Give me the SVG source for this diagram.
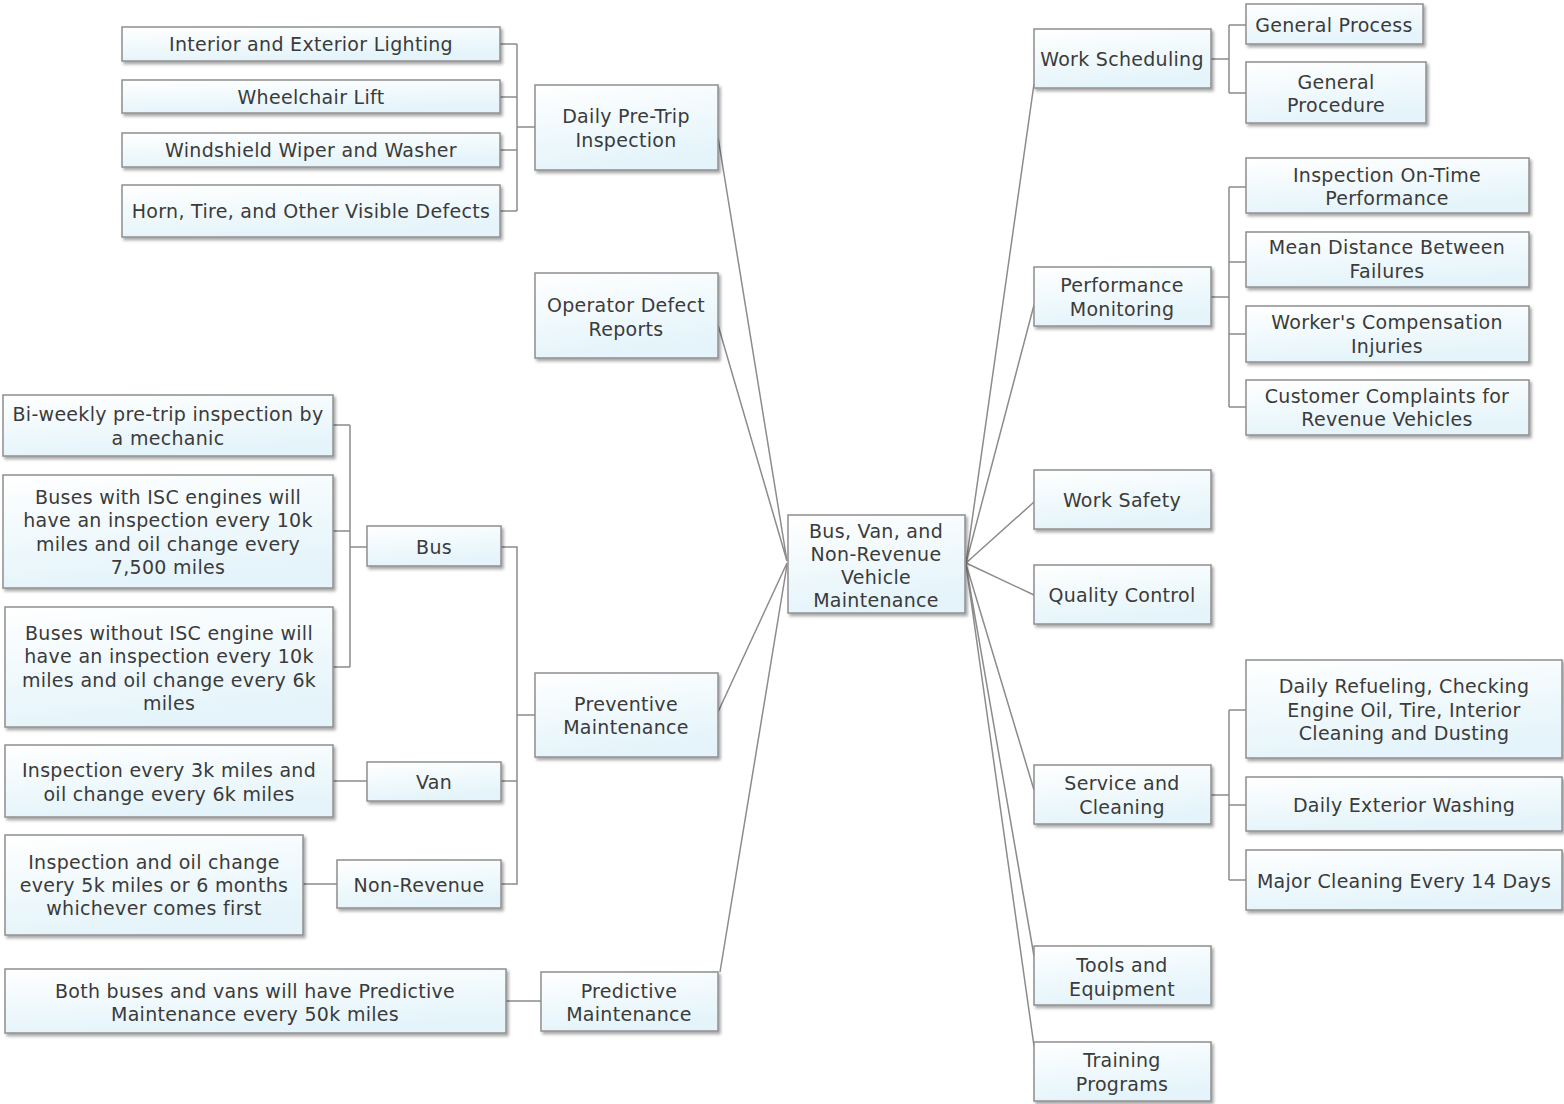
<svg xmlns="http://www.w3.org/2000/svg" width="1564" height="1104" viewBox="0 0 1564 1104">
<defs>
<linearGradient id="g" x1="0" y1="0" x2="0.3" y2="1">
<stop offset="0" stop-color="#ffffff"/>
<stop offset="1" stop-color="#e4f4fa"/>
</linearGradient>
<filter id="sh" x="-10%" y="-20%" width="130%" height="150%">
<feDropShadow dx="2" dy="2.5" stdDeviation="1.6" flood-color="#000" flood-opacity="0.35"/>
</filter>
<style>
.b{fill:url(#g);stroke:#8f8f8f;stroke-width:1.5;filter:url(#sh)}
.t{font-family:"DejaVu Sans",Verdana,sans-serif;font-size:19px;fill:#3b3b3b;text-anchor:middle;letter-spacing:0.3px}
.c{fill:none;stroke:#8c8c8c;stroke-width:1.5}
</style>
</defs>
<rect width="1564" height="1104" fill="#ffffff"/>
<g id="connectors" class="c">
<path d="M718,137 L787,561 M718,325 L787,561 M718,712 L787,563 M720,972 L787,565"/>
<path d="M966,563 L1034,84 M966,563 L1034,305 M966,563 L1034,502 M966,563 L1034,595 M966,564 L1034,790 M966,565 L1034,956 M966,565 L1034,1046"/>
<path d="M535,127 H517 M517,44 V211 M500,44 H517 M500,97 H517 M500,150 H517 M500,211 H517"/>
<path d="M333,425 H350 M333,531 H350 M333,667 H350 M350,425 V667 M350,547 H367"/>
<path d="M501,547 H517 V884 H501 M501,781 H517 M517,715 H535"/>
<path d="M333,781 H367 M303,884 H337 M506,1001 H541"/>
<path d="M1211,59 H1229 M1229,25 V93 M1229,25 H1246 M1229,93 H1246"/>
<path d="M1211,297 H1229 M1229,187 V407 M1229,187 H1246 M1229,262 H1246 M1229,334 H1246 M1229,407 H1246"/>
<path d="M1211,795 H1229 M1229,710 V880 M1229,710 H1246 M1229,805 H1246 M1229,880 H1246"/>
</g>
<g id="n-center"><rect class="b" x="788" y="515" width="177" height="98"/><text class="t" x="876" y="538">Bus, Van, and</text><text class="t" x="876" y="561">Non-Revenue</text><text class="t" x="876" y="584">Vehicle</text><text class="t" x="876" y="607">Maintenance</text></g>
<g id="n-daily"><rect class="b" x="535" y="85" width="183" height="85"/><text class="t" x="626" y="123">Daily Pre-Trip</text><text class="t" x="626" y="147">Inspection</text></g>
<g id="n-operator"><rect class="b" x="535" y="273" width="183" height="85"/><text class="t" x="626" y="312">Operator Defect</text><text class="t" x="626" y="336">Reports</text></g>
<g id="n-preventive"><rect class="b" x="535" y="673" width="183" height="84"/><text class="t" x="626" y="711">Preventive</text><text class="t" x="626" y="734">Maintenance</text></g>
<g id="n-predictive"><rect class="b" x="541" y="972" width="177" height="59"/><text class="t" x="629" y="998">Predictive</text><text class="t" x="629" y="1021">Maintenance</text></g>
<g id="n-lighting"><rect class="b" x="122" y="27" width="378" height="34"/><text class="t" x="311" y="51">Interior and Exterior Lighting</text></g>
<g id="n-wheelchair"><rect class="b" x="122" y="80" width="378" height="33"/><text class="t" x="311" y="104">Wheelchair Lift</text></g>
<g id="n-windshield"><rect class="b" x="122" y="133" width="378" height="34"/><text class="t" x="311" y="157">Windshield Wiper and Washer</text></g>
<g id="n-horn"><rect class="b" x="122" y="185" width="378" height="52"/><text class="t" x="311" y="218">Horn, Tire, and Other Visible Defects</text></g>
<g id="n-biweekly"><rect class="b" x="3" y="395" width="330" height="61"/><text class="t" x="168" y="421">Bi-weekly pre-trip inspection by</text><text class="t" x="168" y="445">a mechanic</text></g>
<g id="n-isc"><rect class="b" x="3" y="475" width="330" height="113"/><text class="t" x="168" y="504">Buses with ISC engines will</text><text class="t" x="168" y="527">have an inspection every 10k</text><text class="t" x="168" y="551">miles and oil change every</text><text class="t" x="168" y="574">7,500 miles</text></g>
<g id="n-noisc"><rect class="b" x="5" y="607" width="328" height="120"/><text class="t" x="169" y="640">Buses without ISC engine will</text><text class="t" x="169" y="663">have an inspection every 10k</text><text class="t" x="169" y="687">miles and oil change every 6k</text><text class="t" x="169" y="710">miles</text></g>
<g id="n-bus"><rect class="b" x="367" y="526" width="134" height="40"/><text class="t" x="434" y="554">Bus</text></g>
<g id="n-van-detail"><rect class="b" x="5" y="745" width="328" height="72"/><text class="t" x="169" y="777">Inspection every 3k miles and</text><text class="t" x="169" y="801">oil change every 6k miles</text></g>
<g id="n-van"><rect class="b" x="367" y="762" width="134" height="39"/><text class="t" x="434" y="789">Van</text></g>
<g id="n-nonrev-detail"><rect class="b" x="5" y="835" width="298" height="100"/><text class="t" x="154" y="869">Inspection and oil change</text><text class="t" x="154" y="892">every 5k miles or 6 months</text><text class="t" x="154" y="915">whichever comes first</text></g>
<g id="n-nonrev"><rect class="b" x="337" y="860" width="164" height="48"/><text class="t" x="419" y="892">Non-Revenue</text></g>
<g id="n-predictive-detail"><rect class="b" x="5" y="969" width="501" height="64"/><text class="t" x="255" y="998">Both buses and vans will have Predictive</text><text class="t" x="255" y="1021">Maintenance every 50k miles</text></g>
<g id="n-worksched"><rect class="b" x="1034" y="29" width="177" height="59"/><text class="t" x="1122" y="66">Work Scheduling</text></g>
<g id="n-perf"><rect class="b" x="1034" y="267" width="177" height="59"/><text class="t" x="1122" y="292">Performance</text><text class="t" x="1122" y="316">Monitoring</text></g>
<g id="n-safety"><rect class="b" x="1034" y="470" width="177" height="59"/><text class="t" x="1122" y="507">Work Safety</text></g>
<g id="n-quality"><rect class="b" x="1034" y="565" width="177" height="59"/><text class="t" x="1122" y="602">Quality Control</text></g>
<g id="n-service"><rect class="b" x="1034" y="765" width="177" height="59"/><text class="t" x="1122" y="790">Service and</text><text class="t" x="1122" y="814">Cleaning</text></g>
<g id="n-tools"><rect class="b" x="1034" y="946" width="177" height="59"/><text class="t" x="1122" y="972">Tools and</text><text class="t" x="1122" y="996">Equipment</text></g>
<g id="n-training"><rect class="b" x="1034" y="1042" width="177" height="59"/><text class="t" x="1122" y="1067">Training</text><text class="t" x="1122" y="1091">Programs</text></g>
<g id="n-genprocess"><rect class="b" x="1246" y="4" width="177" height="40"/><text class="t" x="1334" y="32">General Process</text></g>
<g id="n-genprocedure"><rect class="b" x="1246" y="62" width="180" height="61"/><text class="t" x="1336" y="89">General</text><text class="t" x="1336" y="112">Procedure</text></g>
<g id="n-ontime"><rect class="b" x="1246" y="158" width="283" height="55"/><text class="t" x="1387" y="182">Inspection On-Time</text><text class="t" x="1387" y="205">Performance</text></g>
<g id="n-mdbf"><rect class="b" x="1246" y="232" width="283" height="55"/><text class="t" x="1387" y="254">Mean Distance Between</text><text class="t" x="1387" y="278">Failures</text></g>
<g id="n-workers"><rect class="b" x="1246" y="306" width="283" height="56"/><text class="t" x="1387" y="329">Worker's Compensation</text><text class="t" x="1387" y="353">Injuries</text></g>
<g id="n-complaints"><rect class="b" x="1246" y="380" width="283" height="55"/><text class="t" x="1387" y="403">Customer Complaints for</text><text class="t" x="1387" y="426">Revenue Vehicles</text></g>
<g id="n-refuel"><rect class="b" x="1246" y="660" width="316" height="98"/><text class="t" x="1404" y="693">Daily Refueling, Checking</text><text class="t" x="1404" y="717">Engine Oil, Tire, Interior</text><text class="t" x="1404" y="740">Cleaning and Dusting</text></g>
<g id="n-washing"><rect class="b" x="1246" y="777" width="316" height="54"/><text class="t" x="1404" y="812">Daily Exterior Washing</text></g>
<g id="n-major"><rect class="b" x="1246" y="850" width="316" height="60"/><text class="t" x="1404" y="888">Major Cleaning Every 14 Days</text></g>
</svg>
